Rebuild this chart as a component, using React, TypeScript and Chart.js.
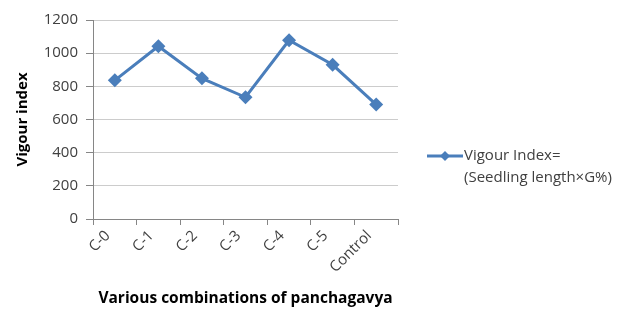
import React, { useEffect, useRef } from "react";
import { Chart, registerables } from "chart.js";

Chart.register(...registerables);

const categories = ["C-0", "C-1", "C-2", "C-3", "C-4", "C-5", "Control"];
const vigourValues = [836, 1042, 848, 734, 1078, 930, 690];
const seriesLabel = ["Vigour Index=", "(Seedling length×G%)"];
const yTitle = "Vigour index";
const xTitle = "Various combinations of panchagavya";

const LINE = "#4a7ebb";
const FONT = "'Open Sans', 'Liberation Sans', sans-serif";

const legendPlugin = {
  id: "sideLegend",
  afterDraw(chart: any) {
    const ctx = chart.ctx;
    const ds = chart.data.datasets[0];
    const lines: string[] = ds.legendLines;
    const x0 = 427, x1 = 463, y0 = 156;
    ctx.save();
    ctx.strokeStyle = LINE;
    ctx.lineWidth = 3;
    ctx.beginPath();
    ctx.moveTo(x0, y0);
    ctx.lineTo(x1, y0);
    ctx.stroke();
    ctx.fillStyle = LINE;
    ctx.beginPath();
    const cx = (x0 + x1) / 2, r = 5;
    ctx.moveTo(cx, y0 - r);
    ctx.lineTo(cx + r, y0);
    ctx.lineTo(cx, y0 + r);
    ctx.lineTo(cx - r, y0);
    ctx.closePath();
    ctx.fill();
    ctx.fillStyle = "#404040";
    ctx.font = `15px ${FONT}`;
    ctx.textBaseline = "middle";
    lines.forEach((t, i) => ctx.fillText(t, x1 + 1, y0 + i * 22));
    ctx.restore();
  },
};

export default function App() {
  const ref = useRef<HTMLCanvasElement>(null);
  useEffect(() => {
    const chart = new Chart(ref.current!, {
      type: "line",
      data: {
        labels: categories,
        datasets: [
          {
            label: seriesLabel.join(" "),
            legendLines: seriesLabel,
            data: vigourValues,
            borderColor: LINE,
            backgroundColor: LINE,
            borderWidth: 3,
            pointStyle: "rectRot",
            pointRadius: 7,
            pointBorderWidth: 0,
            tension: 0,
          } as any,
        ],
      },
      options: {
        animation: false,
        responsive: false,
        layout: { padding: { top: 20, right: 237, left: 12, bottom: 0 } },
        plugins: { legend: { display: false }, tooltip: { enabled: false } },
        scales: {
          x: {
            offset: true,
            grid: { offset: true, drawOnChartArea: false, drawTicks: true, tickLength: 6, color: "#868686" },
            border: { color: "#868686", width: 1 },
            ticks: {
              minRotation: 45,
              maxRotation: 45,
              color: "#404040",
              font: { family: FONT, size: 15 },
              padding: 2,
              labelOffset: -7,
            },
            title: {
              display: true,
              text: xTitle,
              color: "#000",
              font: { family: FONT, size: 15.5, weight: "bold" },
              padding: { top: 10, bottom: 6 },
            },
            afterFit(s: any) {
              s.height = 95;
            },
          },
          y: {
            min: 0,
            max: 1200,
            ticks: {
              stepSize: 200,
              color: "#404040",
              font: { family: FONT, size: 15 },
              padding: 8,
              callback: (v: any) => String(v),
            },
            grid: { color: "#cccccc", tickLength: 7, tickColor: "#868686" },
            border: { color: "#868686", width: 1 },
            title: {
              display: true,
              text: yTitle,
              color: "#000",
              font: { family: FONT, size: 15, weight: "bold" },
              padding: { top: 2, bottom: 0 },
            },
            afterFit(s: any) {
              s.width = 81;
            },
          },
        },
      } as any,
      plugins: [legendPlugin],
    });
    return () => chart.destroy();
  }, []);
  return (
    <div style={{ position: "fixed", left: 0, top: 0, width: 635, height: 314, background: "#fff" }}>
      <canvas ref={ref} width={635} height={314} />
    </div>
  );
}
